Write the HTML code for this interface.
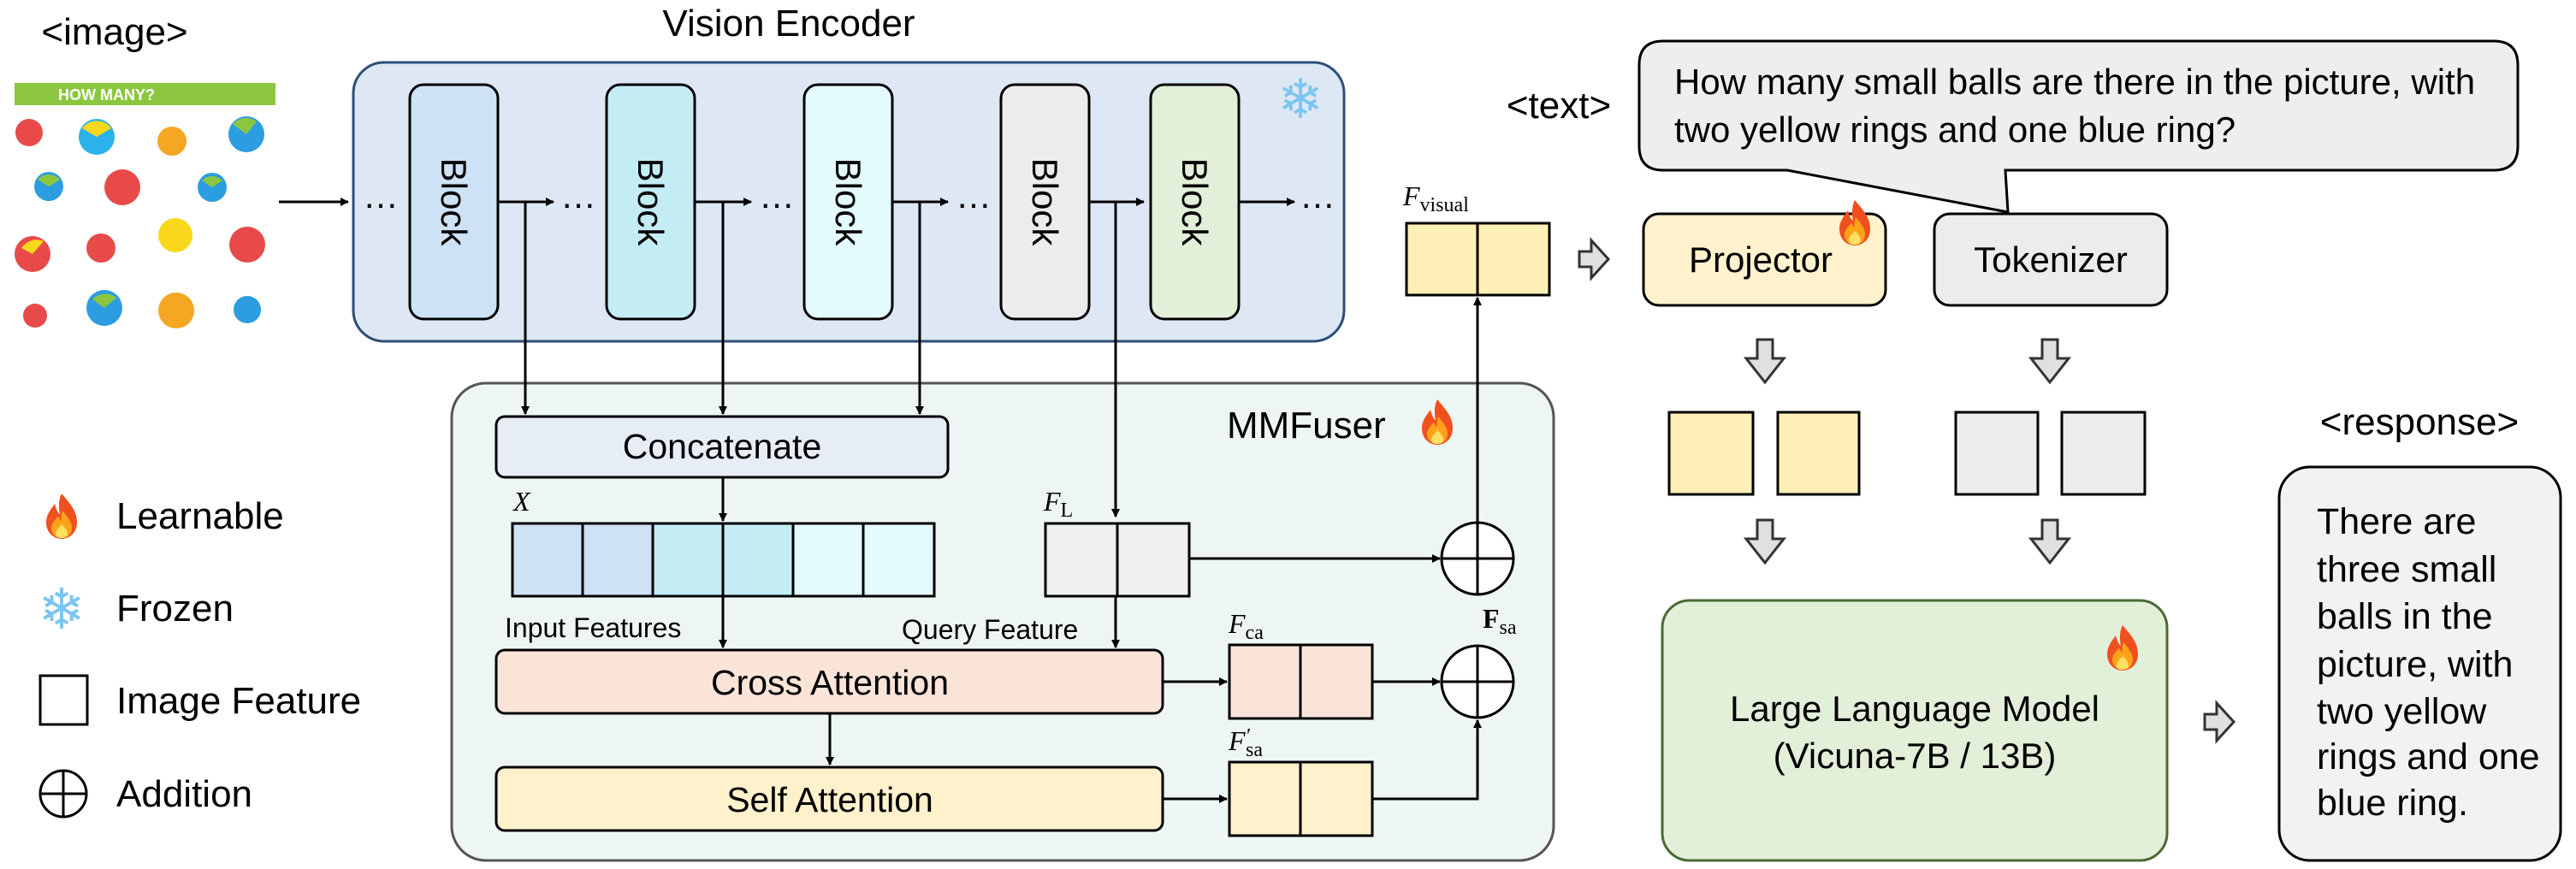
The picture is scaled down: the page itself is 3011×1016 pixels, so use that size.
<!DOCTYPE html>
<html><head><meta charset="utf-8"><style>
html,body{margin:0;padding:0;background:#fff;}
svg{display:block;}
text{font-family:"Liberation Sans Narrow","Liberation Sans",sans-serif;fill:#000;}
.m{font-family:"Liberation Serif",serif;font-style:italic;}
.s{font-family:"Liberation Serif",serif;font-style:normal;}
</style></head><body>
<svg width="3011" height="1016" viewBox="0 0 3011 1016" xmlns="http://www.w3.org/2000/svg">
<defs>
<marker id="ah" markerWidth="10" markerHeight="10" refX="9" refY="5" orient="auto" markerUnits="userSpaceOnUse" viewBox="0 0 10 10">
<path d="M0,0 L10,5 L0,10 z" fill="#000"/></marker>
<g id="fire">
<path d="M0,-26 C10,-14 18,-6 18,8 C18,20 9,27 0,27 C-9,27 -18,20 -18,8 C-18,-2 -12,-8 -8,-14 C-6,-6 -4,-3 -2,-2 C-4,-12 -3,-20 0,-26z" fill="#f0501e"/>
<path d="M1,-6 C8,2 12,8 12,14 C12,22 6,26 0,26 C-6,26 -12,22 -12,14 C-12,8 -6,4 -4,0 C-3,4 -1,5 0,6 C-1,1 0,-3 1,-6z" fill="#ffa21a"/>
<path d="M0,10 C5,14 7,18 7,21 C7,25 3,26 0,26 C-3,26 -7,25 -7,21 C-7,17 -3,14 0,10z" fill="#ffe060"/>
</g>
<g id="harrow"><path d="M0,-9 L14,-9 L14,-22 L34,0 L14,22 L14,9 L0,9 z" fill="#e0e0e0" stroke="#333" stroke-width="3" stroke-linejoin="miter"/></g>
<g id="darrow"><path d="M-9,0 L9,0 L9,22 L22,22 L0,50 L-22,22 L-9,22 z" fill="#e0e0e0" stroke="#333" stroke-width="3"/></g>
</defs>

<!-- image input -->
<text x="134" y="52" font-size="44" text-anchor="middle">&lt;image&gt;</text>
<rect x="17" y="97" width="305" height="26" fill="#8cc63f"/>
<text x="68" y="117" font-size="18" font-weight="bold" style="fill:#fff">HOW MANY?</text>
<g stroke="none">
<circle cx="34" cy="155" r="16" fill="#e84a4a"/><circle cx="113" cy="160" r="21" fill="#2bb2ea"/><circle cx="201" cy="165" r="17" fill="#f5a623"/><circle cx="288" cy="157" r="21" fill="#2b9de0"/>
<circle cx="57" cy="218" r="17" fill="#2b9de0"/><circle cx="143" cy="219" r="21" fill="#e84a4a"/><circle cx="248" cy="219" r="17" fill="#2b9de0"/>
<circle cx="38" cy="297" r="21" fill="#e84a4a"/><circle cx="118" cy="290" r="17" fill="#e84a4a"/><circle cx="205" cy="275" r="20" fill="#f9d71c"/><circle cx="289" cy="286" r="21" fill="#e84a4a"/>
<circle cx="41" cy="369" r="14" fill="#e84a4a"/><circle cx="122" cy="360" r="21" fill="#2b9de0"/><circle cx="206" cy="363" r="21" fill="#f5a623"/><circle cx="289" cy="362" r="16" fill="#2b9de0"/>
<path d="M96,150 A21,21 0 0 1 130,150 L113,160z" fill="#f9d71c"/><path d="M272,145 A21,21 0 0 1 300,142 L288,157z" fill="#8cc63f"/>
<path d="M25,290 A21,21 0 0 1 51,282 L38,297z" fill="#f9d71c"/><path d="M108,350 A21,21 0 0 1 136,348 L122,360z" fill="#8cc63f"/>
<path d="M44,210 A17,17 0 0 1 70,210 L57,218z" fill="#8cc63f"/><path d="M236,211 A17,17 0 0 1 260,211 L248,219z" fill="#8cc63f"/>
</g>
<line x1="326" y1="236" x2="407" y2="236" stroke="#000" stroke-width="3" marker-end="url(#ah)"/>

<!-- Vision Encoder -->
<text x="922" y="42" font-size="44" text-anchor="middle">Vision Encoder</text>
<rect x="413" y="73" width="1158" height="326" rx="36" fill="#dde8f4" stroke="#2f4e7a" stroke-width="3"/>
<text x="1520" y="138" font-size="64" text-anchor="middle" style="fill:#7cc5f0">❄</text>
<g stroke="#000" stroke-width="3">
<rect x="479" y="99" width="103" height="274" rx="16" fill="#cde2f5"/>
<rect x="709" y="99" width="103" height="274" rx="16" fill="#c4ecf5"/>
<rect x="940" y="99" width="103" height="274" rx="16" fill="#e3fbfc"/>
<rect x="1170" y="99" width="103" height="274" rx="16" fill="#ececec"/>
<rect x="1345" y="99" width="103" height="274" rx="16" fill="#e2efd9"/>
</g>
<g font-size="42">
<text transform="translate(516,236) rotate(90)" text-anchor="middle">Block</text>
<text transform="translate(746,236) rotate(90)" text-anchor="middle">Block</text>
<text transform="translate(977,236) rotate(90)" text-anchor="middle">Block</text>
<text transform="translate(1207,236) rotate(90)" text-anchor="middle">Block</text>
<text transform="translate(1382,236) rotate(90)" text-anchor="middle">Block</text>
<text x="445" y="243" text-anchor="middle">…</text>
<text x="676" y="243" text-anchor="middle">…</text>
<text x="908" y="243" text-anchor="middle">…</text>
<text x="1138" y="243" text-anchor="middle">…</text>
<text x="1540" y="243" text-anchor="middle">…</text>
</g>
<g stroke="#000" stroke-width="3" fill="none">
<line x1="582" y1="236" x2="647" y2="236" marker-end="url(#ah)"/>
<line x1="812" y1="236" x2="878" y2="236" marker-end="url(#ah)"/>
<line x1="1043" y1="236" x2="1108" y2="236" marker-end="url(#ah)"/>
<line x1="1273" y1="236" x2="1337" y2="236" marker-end="url(#ah)"/>
<line x1="1448" y1="236" x2="1513" y2="236" marker-end="url(#ah)"/>
</g>

<!-- MMFuser -->
<rect x="528" y="448" width="1288" height="558" rx="40" fill="#eef6f5" stroke="#555" stroke-width="3"/>
<text x="1434" y="512" font-size="44">MMFuser</text>
<use href="#fire" transform="translate(1680,493)"/>
<g stroke="#000" stroke-width="3">
<rect x="580" y="487" width="528" height="71" rx="10" fill="#e6edf5"/>
<rect x="580" y="760" width="779" height="74" rx="10" fill="#fae4d8"/>
<rect x="580" y="897" width="779" height="74" rx="10" fill="#fff1cc"/>
<rect x="599" y="612" width="82" height="85" fill="#cde2f5"/>
<rect x="681" y="612" width="82" height="85" fill="#cde2f5"/>
<rect x="763" y="612" width="82" height="85" fill="#c4ecf5"/>
<rect x="845" y="612" width="82" height="85" fill="#c4ecf5"/>
<rect x="927" y="612" width="82" height="85" fill="#e3fbfc"/>
<rect x="1009" y="612" width="83" height="85" fill="#e3fbfc"/>
<rect x="1222" y="612" width="168" height="85" fill="#f0f0f0"/>
<line x1="1306" y1="612" x2="1306" y2="697"/>
<rect x="1437" y="754" width="167" height="86" fill="#fae4d8"/>
<line x1="1520" y1="754" x2="1520" y2="840"/>
<rect x="1437" y="891" width="167" height="86" fill="#fff1cc"/>
<line x1="1520" y1="891" x2="1520" y2="977"/>
<rect x="1644" y="261" width="167" height="84" fill="#fdefb5"/>
<line x1="1727" y1="261" x2="1727" y2="345"/>
<circle cx="1727" cy="653" r="42" fill="#fff"/>
<line x1="1685" y1="653" x2="1769" y2="653"/><line x1="1727" y1="611" x2="1727" y2="695"/>
<circle cx="1727" cy="797" r="42" fill="#fff"/>
<line x1="1685" y1="797" x2="1769" y2="797"/><line x1="1727" y1="755" x2="1727" y2="839"/>
</g>
<g stroke="#000" stroke-width="3" fill="none">
<line x1="614" y1="236" x2="614" y2="484" marker-end="url(#ah)"/>
<line x1="845" y1="236" x2="845" y2="484" marker-end="url(#ah)"/>
<line x1="1075" y1="236" x2="1075" y2="484" marker-end="url(#ah)"/>
<line x1="1304" y1="236" x2="1304" y2="604" marker-end="url(#ah)"/>
<line x1="845" y1="558" x2="845" y2="609" marker-end="url(#ah)"/>
<line x1="845" y1="697" x2="845" y2="757" marker-end="url(#ah)"/>
<line x1="1304" y1="697" x2="1304" y2="757" marker-end="url(#ah)"/>
<line x1="970" y1="834" x2="970" y2="894" marker-end="url(#ah)"/>
<line x1="1359" y1="797" x2="1434" y2="797" marker-end="url(#ah)"/>
<line x1="1359" y1="934" x2="1434" y2="934" marker-end="url(#ah)"/>
<line x1="1390" y1="653" x2="1683" y2="653" marker-end="url(#ah)"/>
<line x1="1604" y1="797" x2="1683" y2="797" marker-end="url(#ah)"/>
<polyline points="1604,934 1727,934 1727,842" marker-end="url(#ah)"/>
<line x1="1727" y1="611" x2="1727" y2="348" marker-end="url(#ah)"/>
</g>
<g font-size="41">
<text x="844" y="536" text-anchor="middle">Concatenate</text>
<text x="970" y="812" text-anchor="middle">Cross Attention</text>
<text x="970" y="949" text-anchor="middle">Self Attention</text>
</g>
<g font-size="32">
<text x="590" y="745">Input Features</text>
<text x="1054" y="747">Query Feature</text>
</g>
<text x="600" y="597" font-size="32" class="m">X</text>
<text x="1220" y="597" font-size="32" class="m">F<tspan font-size="24" class="s" dy="7">L</tspan></text>
<text x="1436" y="740" font-size="32" class="m">F<tspan font-size="24" class="s" dy="7">ca</tspan></text>
<text x="1436" y="877" font-size="32" class="m">F</text>
<text x="1457" y="868" font-size="24" class="s">′</text>
<text x="1456" y="884" font-size="24" class="s">sa</text>
<text x="1733" y="734" font-size="32" class="s" font-weight="bold">F<tspan font-size="24" font-weight="normal" dy="7">sa</tspan></text>
<text x="1640" y="240" font-size="32" class="m">F<tspan font-size="24" class="s" dy="7">visual</tspan></text>

<!-- right side -->
<use href="#harrow" transform="translate(1846,303)"/>
<rect x="1921" y="250" width="283" height="107" rx="18" fill="#fff2cc" stroke="#000" stroke-width="3"/>
<text x="2058" y="318" font-size="42" text-anchor="middle">Projector</text>
<use href="#fire" transform="translate(2168,260)"/>
<rect x="2261" y="250" width="272" height="107" rx="18" fill="#ececec" stroke="#000" stroke-width="3"/>
<text x="2397" y="318" font-size="42" text-anchor="middle">Tokenizer</text>

<path d="M1944,48 L2915,48 Q2943,48 2943,76 L2943,171 Q2943,199 2915,199 L2344,199 L2347,248 L2089,199 L1944,199 Q1916,199 1916,171 L1916,76 Q1916,48 1944,48 z" fill="#eeeeee" stroke="#000" stroke-width="3"/>
<text x="1957" y="110" font-size="42">How many small balls are there in the picture, with</text>
<text x="1957" y="166" font-size="42">two yellow rings and one blue ring?</text>
<text x="1822" y="138" font-size="44" text-anchor="middle">&lt;text&gt;</text>

<use href="#darrow" transform="translate(2063,397)"/>
<use href="#darrow" transform="translate(2396,397)"/>
<use href="#darrow" transform="translate(2063,608)"/>
<use href="#darrow" transform="translate(2396,608)"/>
<g stroke="#000" stroke-width="3">
<rect x="1951" y="482" width="98" height="96" fill="#fdefb5"/>
<rect x="2078" y="482" width="95" height="96" fill="#fdefb5"/>
<rect x="2286" y="482" width="96" height="96" fill="#ececec"/>
<rect x="2410" y="482" width="97" height="96" fill="#ececec"/>
</g>
<rect x="1943" y="702" width="590" height="304" rx="32" fill="#e2efd9" stroke="#4a6b35" stroke-width="3"/>
<text x="2238" y="843" font-size="42" text-anchor="middle">Large Language Model</text>
<text x="2238" y="898" font-size="42" text-anchor="middle">(Vicuna-7B / 13B)</text>
<use href="#fire" transform="translate(2481,757)"/>
<use href="#harrow" transform="translate(2577,844)"/>

<text x="2828" y="508" font-size="44" text-anchor="middle">&lt;response&gt;</text>
<rect x="2664" y="546" width="329" height="460" rx="36" fill="#f2f2f2" stroke="#000" stroke-width="3"/>
<g font-size="43">
<text x="2708" y="624">There are</text>
<text x="2708" y="680">three small</text>
<text x="2708" y="735">balls in the</text>
<text x="2708" y="791">picture, with</text>
<text x="2708" y="846">two yellow</text>
<text x="2708" y="899">rings and one</text>
<text x="2708" y="953">blue ring.</text>
</g>

<!-- legend -->
<use href="#fire" transform="translate(72,603)"/>
<text x="136" y="618" font-size="44">Learnable</text>
<text x="72" y="735" font-size="66" text-anchor="middle" style="fill:#7cc5f0">❄</text>
<text x="136" y="726" font-size="44">Frozen</text>
<rect x="47" y="790" width="55" height="57" fill="#fff" stroke="#000" stroke-width="3"/>
<text x="136" y="834" font-size="44">Image Feature</text>
<circle cx="74" cy="928" r="27" fill="#fff" stroke="#000" stroke-width="3"/>
<line x1="47" y1="928" x2="101" y2="928" stroke="#000" stroke-width="3"/>
<line x1="74" y1="901" x2="74" y2="955" stroke="#000" stroke-width="3"/>
<text x="136" y="943" font-size="44">Addition</text>
</svg>
</body></html>
